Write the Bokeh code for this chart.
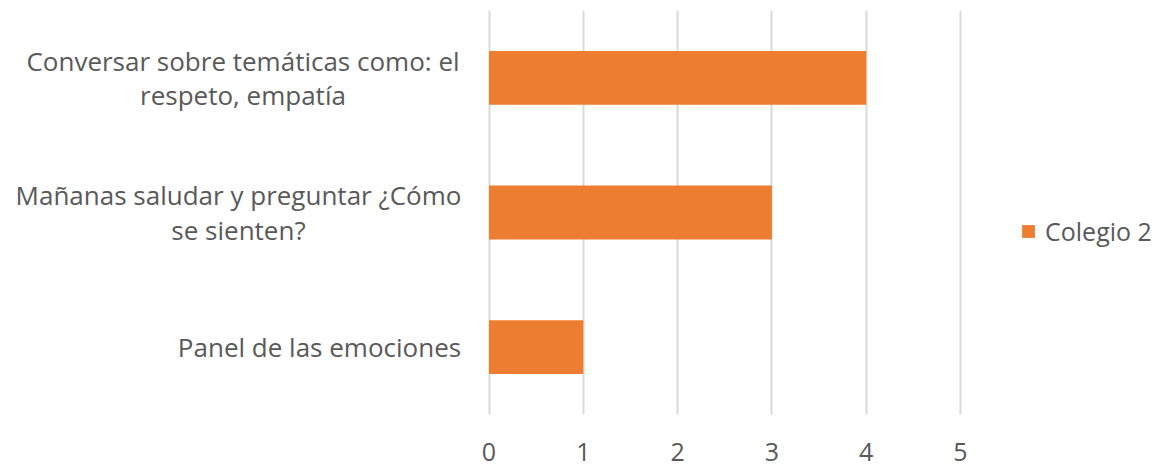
from bokeh.plotting import figure
from bokeh.models import ColumnDataSource, FactorRange, Range1d, Legend, LegendItem, FixedTicker
from bokeh.embed import file_html
from bokeh.resources import INLINE

categories = ["Panel de las emociones",
              "Mañanas saludar y preguntar ¿Cómo\nse sienten?",
              "Conversar sobre temáticas como: el\nrespeto, empatía"]
values = [1, 3, 4]
series_name = "Colegio 2"
x_ticks = [0, 1, 2, 3, 4, 5]

FONT = "Open Sans"
GRAY = "#595959"
ORANGE = "#ED7D31"

W, H = 1164, 469
ZERO_PX = 488.5      # pixel position of value 0
PX_PER_UNIT = 94.3   # pixels per unit on the value axis

src = ColumnDataSource(dict(cat=categories, val=values))

p = figure(width=W, height=H, output_backend="svg", toolbar_location=None,
           y_range=FactorRange(factors=categories, range_padding=0),
           x_range=Range1d(-ZERO_PX / PX_PER_UNIT, (W - ZERO_PX) / PX_PER_UNIT),
           min_border_left=0, min_border_right=0, min_border_top=10, min_border_bottom=55)

r = p.hbar(y="cat", right="val", left=0, height=0.4, source=src,
           fill_color=ORANGE, line_color=None)

p.outline_line_color = None
p.background_fill_color = "white"
p.border_fill_color = "white"

p.xaxis.ticker = FixedTicker(ticks=x_ticks)
p.xaxis.axis_line_color = None
p.xaxis.major_tick_line_color = None
p.xaxis.minor_tick_line_color = None
p.xaxis.major_label_text_font = FONT
p.xaxis.major_label_text_font_size = "25px"
p.xaxis.major_label_text_color = GRAY
p.xaxis.major_label_standoff = 22

p.yaxis.visible = False
p.ygrid.grid_line_color = None
p.xgrid.ticker = FixedTicker(ticks=x_ticks)
p.xgrid.grid_line_color = "#D9D9D9"
p.xgrid.grid_line_width = 2

# category labels (wrapped, lines centred as in the original)
lab_src = ColumnDataSource(dict(cat=categories, x=[0] * len(categories),
                                xoff=[-169.5, -250.5, -246]))
p.text(x="x", y="cat", text="cat", x_offset="xoff", source=lab_src,
       text_align="center", text_baseline="middle",
       text_font={"value": FONT}, text_font_size="26px", text_color=GRAY,
       text_line_height=0.95)

legend = Legend(items=[LegendItem(label=series_name, renderers=[r])],
                location=(1020, 166), border_line_color=None, background_fill_alpha=0,
                label_text_font=FONT, label_text_font_size="25px",
                label_text_color=GRAY, glyph_width=16, glyph_height=16,
                label_standoff=9, margin=0, padding=0)
p.add_layout(legend, "center")

open("out.html", "w").write(file_html(p, INLINE))
